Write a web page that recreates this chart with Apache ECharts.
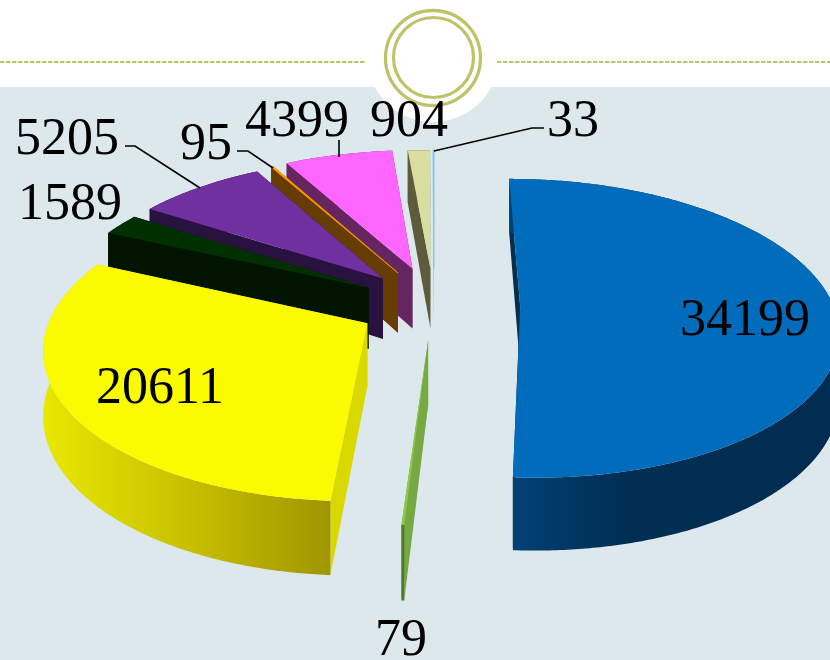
<!DOCTYPE html>
<html><head><meta charset="utf-8">
<style>html,body{margin:0;padding:0;background:#fff}#c{width:830px;height:660px}</style>
<script src="https://cdn.jsdelivr.net/npm/echarts@6/dist/echarts.min.js"></script>
</head><body><div id="c"></div>
<script>
const sliceValues = [34199, 79, 20611, 1589, 5205, 95, 4399, 904, 33];
const sliceLabels = ['34199', '79', '20611', '1589', '5205', '95', '4399', '904', '33'];

const topColors  = ['#006cbb', '#8ccb4a', '#fbfb00', '#003000', '#7030a0', '#ff9a00', '#ff66ff', '#d9dd9f', '#7fc8ee'];
const sideColors = ['#002f50', '#76a844', '#d9d900', '#001400', '#2a1240', '#663c00', '#652561', '#5c5c3c', '#5a9ab8'];
const rimStops = [
  [[0, '#004276'], [0.35, '#002f52'], [1, '#002c4f']],
  [[0, '#4d7a2a'], [1, '#4d7a2a']],
  [[0, '#e8e800'], [0.5, '#c8c000'], [1, '#a09600']],
  [[0, '#001400'], [1, '#001400']],
  [[0, '#2a1240'], [1, '#2a1240']],
  [[0, '#663c00'], [1, '#663c00']],
  [[0, '#652561'], [1, '#652561']],
  [[0, '#5c5c3c'], [1, '#5c5c3c']],
  [[0, '#5a9ab8'], [1, '#5a9ab8']]
];
const explode = [0.272, 0.235, 0.24, 0.25, 0.255, 0.26, 0.27, 0.26, 0.26];
const shiftX = [-1, -3, -3, 0, 0, 0, 0, -2, -2];
const topStroke = [0, 0, 0, 0, 0, 0.8, 0, 0, 1.2];
const labelAnchors = [[745, 321], [401, 641], [160, 389], [70, 205], [67, 140], [206, 145], [297, 122], [409, 122], [573, 122]];
const leaders = [
  [[125, 146], [135, 146], [200, 188]],
  [[237, 151], [248, 151], [273, 168]],
  [[339, 140], [339, 157]],
  [[544, 128], [532, 128], [434, 151]]
];

const CX = 436, CY = 305, RX = 313, RY = 145.8, PERSP = 0.1477, DEPTH = 62;
const LABEL_FONT = '"Liberation Serif", serif';

const total = sliceValues.reduce((a, b) => a + b, 0);
const project = (u, v, drop, sx) => {
  const w = 1 + PERSP * v;
  return [CX + sx + RX * u / w, CY - RY * v / w + drop * DEPTH / w];
};

function renderSlice(params, api) {
  const i = params.dataIndex;
  const before = sliceValues.slice(0, i).reduce((a, b) => a + b, 0);
  const a0 = before / total * Math.PI * 2;
  const a1 = (before + api.value(0)) / total * Math.PI * 2;
  const mid = (a0 + a1) / 2;
  const ou = Math.sin(mid) * explode[i], ov = Math.cos(mid) * explode[i];
  const sx = shiftX[i];
  const arc = drop => {
    const pts = [];
    const n = Math.max(2, Math.ceil((a1 - a0) / 0.01));
    for (let k = 0; k <= n; k++) {
      const a = a0 + (a1 - a0) * k / n;
      pts.push(project(ou + Math.sin(a), ov + Math.cos(a), drop, sx));
    }
    return pts;
  };
  const apex = drop => project(ou, ov, drop, sx);
  const top = arc(0), bot = arc(1);
  const base = (9 - i) * 10;
  const poly = (points, fill, z, stroke) => ({
    type: 'polygon', z2: base + z, silent: true, shape: { points },
    style: stroke ? { fill, stroke: fill, lineWidth: stroke } : { fill }
  });
  const children = [
    poly([apex(0), top[0], bot[0], apex(1)], sideColors[i], 0),
    poly([apex(0), top[top.length - 1], bot[bot.length - 1], apex(1)], sideColors[i], 1),
    poly(top.concat(bot.slice().reverse()), new echarts.graphic.LinearGradient(0, 0, 1, 0,
      rimStops[i].map(s => ({ offset: s[0], color: s[1] }))), 2),
    poly([apex(0)].concat(top), topColors[i], 3, topStroke[i]),
    { type: 'text', z2: 500, silent: true, style: {
      text: sliceLabels[i], x: labelAnchors[i][0], y: labelAnchors[i][1],
      align: 'center', verticalAlign: 'middle', fill: '#000', font: '52px ' + LABEL_FONT } }
  ];
  return { type: 'group', children };
}

const decor = [
  { type: 'rect', z: -5, silent: true, shape: { x: 0, y: 87, width: 830, height: 573 }, style: { fill: '#dde8ed' } },
  { type: 'circle', z: -4, silent: true, shape: { cx: 433, cy: 56, r: 66 }, style: { fill: '#fff' } },
  { type: 'line', silent: true, shape: { x1: 0, y1: 62, x2: 366, y2: 62 }, style: { stroke: '#bcc46a', lineWidth: 1.8, lineDash: [4.5, 1.5] } },
  { type: 'line', silent: true, shape: { x1: 497, y1: 62, x2: 830, y2: 62 }, style: { stroke: '#bcc46a', lineWidth: 1.8, lineDash: [4.5, 1.5] } },
  { type: 'circle', silent: true, shape: { cx: 433, cy: 58, r: 47.5 }, style: { fill: 'none', stroke: '#bcc46a', lineWidth: 3.3 } },
  { type: 'circle', silent: true, shape: { cx: 433.5, cy: 57.5, r: 40 }, style: { fill: 'none', stroke: '#bcc46a', lineWidth: 3.2 } }
].concat(leaders.map(points => ({
  type: 'polyline', silent: true, z: 10, shape: { points }, style: { fill: 'none', stroke: '#000', lineWidth: 1.6 }
})));

const chart = echarts.init(document.getElementById('c'), null, { renderer: 'canvas' });
chart.setOption({
  animation: false,
  backgroundColor: '#fff',
  graphic: { elements: decor },
  series: [{
    type: 'custom',
    coordinateSystem: 'none',
    silent: true,
    clip: false,
    data: sliceValues.map(v => [v]),
    encode: { value: 0 },
    renderItem: renderSlice
  }]
});
</script></body></html>
